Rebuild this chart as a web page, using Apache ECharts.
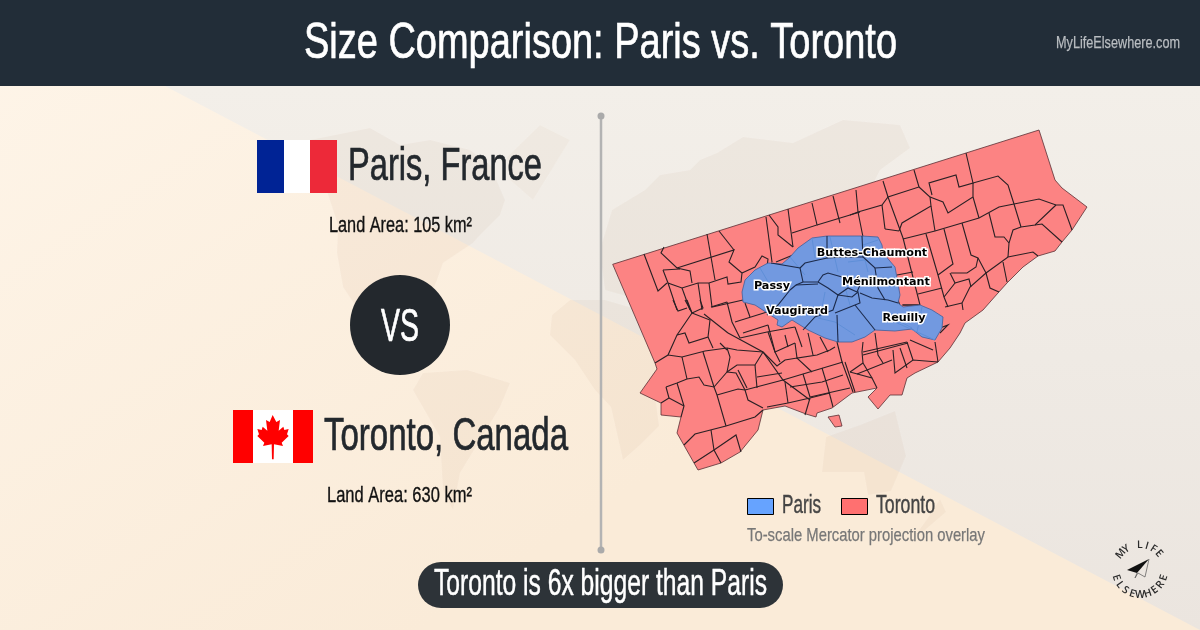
<!DOCTYPE html>
<html><head><meta charset="utf-8"><style>html,body{margin:0;padding:0;background:#fdf1e2}#c{width:1200px;height:630px}</style>
<script src="https://cdn.jsdelivr.net/npm/echarts@6/dist/echarts.min.js"></script></head>
<body><div id="c"></div><script>
const torontoOutline=[[612.7,264.3],[1039,130],[1055,180],[1062,188],[1087,207],[1072,230],[1062,242],[1055,251],[1038,256],[1023,267],[1007,283],[998,293],[983,310],[965,323],[960,333],[950,348],[938,362],[915,373],[907,378],[902,395],[890,395],[878,409],[868,397],[877,388],[852,393],[832,408],[817,413],[816,417],[806,414],[785,406],[763,410],[758,430],[740,452],[721,463],[698,470],[677,433],[681,417],[661,415],[661,403],[640,393],[657,369],[655,363]];
const torontoIsland=[[828,417],[839,415],[842,426],[835,427]];
const parisOutline=[[742,292],[745,280],[755,270],[768,263],[782,264],[790,257],[798,248],[812,238],[827,236],[862,236],[878,237],[882,245],[883,253],[895,267],[897,278],[900,295],[898,303],[903,307],[920,305],[932,310],[943,317],[942,328],[935,340],[922,337],[912,329],[895,331],[875,330],[865,337],[852,342],[838,342],[825,338],[808,330],[792,320],[782,327],[777,325],[778,320],[755,305],[743,302]];
const wardLinesNorth=[
[[644,254],[658,291],[667,283]],[[664,247],[661,253],[677,268],[690,271],[692,283]],
[[663,270],[668,283],[682,288],[698,283],[709,283],[727,277],[728,284],[741,282],[742,273],[729,262],[734,250],[677,268]],
[[663,270],[680,269]],[[707,234],[711,257],[715,280]],[[719,231],[734,250]],[[742,273],[755,267],[762,256],[768,259],[767,267]],
[[766,217],[772,262]],[[769,215],[778,227],[778,235],[793,247]],[[788,209],[793,247]],[[812,203],[817,225],[792,233]],[[817,225],[860,212]],[[833,196],[840,223]],[[776,262],[793,255],[807,245]],
[[668,283],[677,310]],[[682,288],[690,310]],[[698,283],[702,310]],[[709,283],[712,307],[743,300]],
[[856,190],[858,212],[863,237]],[[850,215],[858,212],[882,205],[888,197],[919,187],[914,170]],[[883,181],[888,197],[903,238]],[[882,205],[885,229]],[[885,229],[899,231]],[[899,231],[902,223],[931,206],[930,197],[919,187]],[[931,206],[935,231]],
[[930,197],[943,202],[948,213],[973,197],[973,183]],[[966,153],[973,183],[959,187],[956,175],[929,183],[932,195]],[[973,183],[998,176],[1008,185],[1014,204],[1021,227]],[[973,197],[979,218]],
[[903,239],[935,231],[979,218],[999,207],[1014,204],[1039,199],[1056,205],[1063,205],[1072,230]],[[1056,205],[1035,225],[1021,227],[1013,230],[1009,243],[1008,257]],[[1035,225],[1042,224],[1062,242]],[[989,213],[995,237],[1004,237],[1009,243]],
[[1038,256],[1033,252],[1008,257],[986,273],[970,287],[962,303],[963,310]],[[1003,262],[1007,282]],[[986,273],[990,288],[999,292]],[[926,234],[938,275],[944,297],[948,307]],[[944,229],[953,264],[938,275]],[[962,223],[971,255],[978,258],[986,273]],[[951,273],[967,273],[976,267],[978,258]],[[950,273],[955,283],[944,297]],[[955,283],[969,279],[971,287]],[[918,294],[942,288]],[[897,275],[913,272]],[[903,238],[920,305]],[[903,305],[920,305]],[[945,307],[962,303]],
[[902,305],[918,305],[917,311],[903,312]],[[898,300],[902,312]],[[940,333],[948,325],[940,328]]
];
const wardLinesWest=[
[[655,363],[668,355],[677,335],[692,313],[685,300]],[[677,335],[685,333],[689,343],[708,337],[710,320],[692,313]],[[704,314],[728,333]],[[668,355],[682,357],[705,351],[727,348]],[[682,357],[687,379]],[[703,352],[714,387]],[[708,337],[713,348]],[[687,379],[699,377],[704,385],[714,387],[727,372]],[[666,387],[677,383],[687,379]],[[666,387],[669,398],[661,403]],[[669,398],[684,406]],[[677,383],[684,406],[681,417]],[[714,387],[717,395],[726,426]],[[717,395],[738,389],[745,390]],[[684,445],[695,434],[726,426],[755,417],[763,410]],[[711,430],[714,450],[721,463]],[[694,463],[714,450],[736,435],[741,452]],[[673,300],[678,311],[687,308]],[[687,300],[692,313],[703,308],[700,300]],[[711,307],[727,302]]
];
const wardLinesSouth=[
[[728,333],[763,352],[783,380],[810,400]],[[745,390],[783,380],[803,374],[843,362]],[[735,322],[767,312]],[[740,338],[767,332],[795,327]],[[743,333],[768,325]],[[727,302],[732,322],[740,338]],[[745,303],[750,317]],
[[768,325],[775,352],[780,362]],[[763,352],[777,366],[785,360],[797,358],[812,372]],[[768,332],[775,352],[795,343]],[[785,335],[788,347]],[[795,343],[797,358],[817,355],[830,350],[835,347]],[[795,327],[802,347]],[[808,333],[813,355]],[[820,337],[828,352]],[[837,342],[842,362],[853,392]],[[845,362],[855,392]],
[[863,342],[862,352],[863,363]],[[863,352],[907,342]],[[863,355],[908,343]],[[875,333],[878,355],[883,363]],[[893,350],[895,373],[913,360],[938,362]],[[900,348],[907,368]],[[907,342],[913,360]],[[910,340],[933,350]],[[935,342],[938,362]],[[850,372],[863,363]],[[850,372],[872,378],[877,388]],[[863,363],[872,378]],[[857,374],[892,360]],
[[803,374],[810,397]],[[822,368],[828,388]],[[790,387],[822,382],[843,375]],[[810,397],[850,388]],[[828,388],[833,407]],[[757,377],[782,373]],[[755,365],[757,388]],[[763,352],[755,365],[737,365],[727,372]],[[745,390],[736,373],[727,372]],[[738,370],[747,388]],[[745,390],[748,400],[763,408]],[[785,382],[788,403]],[[767,407],[788,403],[810,398]],[[810,398],[805,415]],[[810,398],[830,393]],[[727,348],[730,357],[727,372]],[[727,348],[737,350],[763,352]],[[727,350],[720,343]]
];
const parisLines=[
[[771,263],[800,268],[803,282]],[[800,268],[805,263],[818,260],[827,258],[827,236]],[[827,258],[845,257],[863,257]],[[862,236],[863,257],[875,268],[892,267]],
[[803,282],[818,282],[823,275],[828,273],[842,277],[852,278]],[[818,282],[828,288],[838,295],[848,288],[857,292]],[[790,290],[778,305],[767,315]],[[790,290],[796,285],[803,282]],[[796,285],[818,284]],
[[838,295],[833,310],[815,317],[803,330]],[[838,295],[852,297],[858,292],[860,303],[855,305],[835,313]],[[860,293],[872,298],[888,300],[898,303]],[[875,268],[878,288],[885,300]],[[863,278],[857,292]],[[855,305],[875,330]],[[837,315],[838,342]]
];
const parisLightLines=[[[760,268],[770,285]],[[830,237],[838,272]],[[848,262],[865,260],[868,272]],[[878,240],[863,245]],[[818,318],[835,322],[855,335]],[[825,292],[820,318]],[[882,312],[912,328]],[[922,307],[917,332]],[[895,322],[935,340]],[[790,257],[805,275]],[[812,238],[815,258]],[[843,280],[850,305]],[[792,320],[808,305]]];
const parisLabelNames=['Buttes-Chaumont','Ménilmontant','Passy','Vaugirard','Reuilly'];
const parisLabelPoints=[[872,253],[886,282],[772,286],[797,311],[904,318]];
const worldShapes={
 northAmerica:[[335,135],[370,128],[400,145],[430,140],[470,150],[490,165],[505,200],[500,215],[480,235],[473,243],[443,263],[437,280],[433,290],[425,300],[420,345],[417,363],[393,343],[367,323],[343,287],[337,253],[338,225],[320,170],[310,140]],
 southAmerica:[[423,373],[467,370],[510,383],[500,407],[480,440],[460,473],[453,510],[443,490],[440,437],[413,390]],
 greenland:[[507,157],[540,125],[570,140],[533,200],[510,180]],
 asia:[[600,250],[612,210],[645,190],[660,175],[690,170],[700,160],[717,153],[743,137],[793,143],[843,120],[900,125],[910,148],[880,170],[870,190],[880,260],[890,340],[820,345],[760,340],[700,300],[640,300],[605,290]],
 africa:[[550,335],[552,315],[570,300],[605,300],[640,310],[665,345],[655,395],[659,426],[640,445],[623,460],[611,407],[595,390],[575,360]],
 australia:[[826,437],[860,425],[895,411],[906,456],[891,491],[868,495],[864,472],[822,472]],
 newZealand:[[940,499],[946,512],[925,530],[917,533],[930,515]]
};
const ink='#23282d';
function poly(name,ring){return {type:'Feature',properties:{name},geometry:{type:'Polygon',coordinates:[ring.concat([ring[0]])]}};}
const baseFeatures=Object.keys(worldShapes).map(k=>poly(k,worldShapes[k])).concat([poly('Toronto',torontoOutline),poly('Toronto Islands',torontoIsland)]);
const parisFeatures=[poly('Paris',parisOutline)];
echarts.registerMap('baseMap',{type:'FeatureCollection',features:baseFeatures});
echarts.registerMap('parisMap',{type:'FeatureCollection',features:parisFeatures});
function box(fs){let a=1e9,b=1e9,c=-1e9,d=-1e9;fs.forEach(f=>f.geometry.coordinates[0].forEach(p=>{a=Math.min(a,p[0]);c=Math.max(c,p[0]);b=Math.min(b,p[1]);d=Math.max(d,p[1]);}));return {left:a,top:b,width:c-a,height:d-b};}
const identity={project:p=>p,unproject:p=>p};
const measure=document.createElement('canvas').getContext('2d');
const FONT='"Liberation Sans Narrow","Liberation Sans",sans-serif';
function fit(text,left,right,mid,size,fill,weightLine){
 measure.font='normal '+size+'px '+FONT;
 const w=measure.measureText(text).width, sx=(right-left)/w;
 return {type:'text',x:left,y:mid+size*0.065,scaleX:sx,scaleY:1,z:20,silent:true,style:{text,fill,stroke:fill,lineWidth:weightLine==null?0.7:weightLine,fontSize:size,fontFamily:FONT,align:'left',verticalAlign:'middle'}};
}
function rect(x,y,w,h,fill,z){return {type:'rect',shape:{x,y,width:w,height:h},z,silent:true,style:{fill}};}
const leaf=[[158,45],[169,66],[180,60],[176,92],[190,80],[193,90],[206,87],[201,103],[206,108],[185,128],[189,138],[162,133],[161,178],[156,178],[155,133],[129,138],[133,128],[112,108],[117,103],[112,87],[125,90],[128,80],[142,92],[138,60],[149,66]].map(p=>[220+p[0]/3,400+p[1]/3]);
function arcText(str,cx,cy,r,startDeg,stepDeg,bottom){
 return str.split('').map((ch,i)=>{const a=(startDeg+i*stepDeg)*Math.PI/180;
  const x=cx+r*Math.sin(a), y=bottom? cy+r*Math.cos(a): cy-r*Math.cos(a);
  const rot=bottom? a : -a;
  return {type:'text',x,y,rotation:rot,z:20,silent:true,style:{text:ch,fill:'#2a2a2a',fontSize:10.5,fontWeight:600,fontFamily:'"Open Sans",sans-serif',align:'center',verticalAlign:'middle'}};});
}
const graphics=[
 {type:'rect',shape:{x:0,y:0,width:1200,height:630},z:0,silent:true,style:{fill:new echarts.graphic.LinearGradient(0,0,0.35,1,[{offset:0,color:'#fef5e9'},{offset:1,color:'#faebd8'}])}},
 {type:'polygon',shape:{points:[[165,86],[1200,86],[1200,630]]},z:0,silent:true,style:{fill:new echarts.graphic.LinearGradient(0,0,0,1,[{offset:0,color:'#f3efe9'},{offset:1,color:'#ebe5df'}])}},
 rect(0,0,1200,86,'#222d38',6),
 fit('Size Comparison: Paris vs. Toronto',304,897,41,50,'#ffffff'),
 fit('MyLifeElsewhere.com',1056,1180,42,17,'#b9bdc1',0.25),
 {type:'line',shape:{x1:601,y1:116,x2:601,y2:550},z:5,silent:true,style:{stroke:'#b3b3b3',lineWidth:2.5}},
 {type:'circle',shape:{cx:601,cy:116,r:3.5},z:5,silent:true,style:{fill:'#aaaaaa'}},
 {type:'circle',shape:{cx:601,cy:550,r:3.5},z:5,silent:true,style:{fill:'#aaaaaa'}},
 rect(257,140,27,53,'#002395',7),rect(284,140,27,53,'#ffffff',7),rect(310,140,27,53,'#ed2939',7),
 fit('Paris, France',348,542,164,46,ink),
 fit('Land Area: 105 km²',329,472,225,22,'#111111',0.35),
 {type:'circle',shape:{cx:400,cy:325,r:50},z:7,silent:true,style:{fill:ink}},
 fit('VS',381,419,325,46,'#ffffff'),
 rect(233,410,80,53,'#ffffff',7),rect(233,410,20,53,'#ff0000',7),rect(293,410,20,53,'#ff0000',7),
 {type:'polygon',shape:{points:leaf},z:8,silent:true,style:{fill:'#ff0000'}},
 fit('Toronto, Canada',324,568,434,46,ink),
 fit('Land Area: 630 km²',327,472,495,22,'#111111',0.35),
 {type:'rect',shape:{x:418,y:562,width:365,height:46,r:23},z:7,silent:true,style:{fill:'#2d3338'}},
 fit('Toronto is 6x bigger than Paris',434,767,583,36,'#ffffff',0.5),
 {type:'rect',shape:{x:747.5,y:498.5,width:26,height:16},z:7,silent:true,style:{fill:'#66a3ff',stroke:'#000',lineWidth:1}},
 fit('Paris',782,821,504,25,'#444444',0.4),
 {type:'rect',shape:{x:841.5,y:498.5,width:26,height:16},z:7,silent:true,style:{fill:'#ff7070',stroke:'#000',lineWidth:1}},
 fit('Toronto',876,935,504,25,'#444444',0.4),
 fit('To-scale Mercator projection overlay',747,985,535,19,'#777777',0.25),
 {type:'polygon',shape:{points:[[1127,570],[1149,559],[1137,573]]},z:20,silent:true,style:{fill:'#111'}},
 {type:'polyline',shape:{points:[[1149,559],[1145,577],[1138,573],[1135,578],[1137,573]]},z:20,silent:true,style:{stroke:'#555',lineWidth:.7,fill:'none'}}
].concat(arcText('MY LIFE',1140,570,25,-50,16.5,false),arcText('ELSEWHERE',1140,570,25,-72,18,true));
const baseRegions=Object.keys(worldShapes).map(name=>({name,itemStyle:{areaColor:name==='greenland'?'rgba(170,125,80,0.04)':'rgba(170,125,80,0.06)',borderColor:'rgba(255,255,255,0.1)',borderWidth:.5}})).concat(['Toronto','Toronto Islands'].map(name=>({name,itemStyle:{areaColor:'#fc8383',borderColor:'#5a3035',borderWidth:.8}})));
function lineSeries(name,geoIndex,polys,color,width,z){return {type:'lines',name,coordinateSystem:'geo',geoIndex,polyline:true,silent:true,z,data:polys.map(coords=>({coords})),lineStyle:{color,width,opacity:1,curveness:0}};}
const noState={emphasis:{disabled:true},select:{disabled:true},tooltip:{show:false}};
const chart=echarts.init(document.getElementById('c'),null,{renderer:'canvas'});
chart.setOption({animation:false,
 graphic:{elements:graphics},
 geo:[
  Object.assign({map:'baseMap',projection:identity,roam:false,silent:true,z:1,regions:baseRegions,itemStyle:{areaColor:'transparent',borderWidth:0}},box(baseFeatures),noState),
  Object.assign({map:'parisMap',projection:identity,roam:false,silent:true,z:3,regions:[{name:'Paris',itemStyle:{areaColor:'#7299e0',borderColor:'#3f5f9c',borderWidth:.8}}],itemStyle:{areaColor:'#7299e0'}},box(parisFeatures),noState)
 ],
 series:[
  lineSeries('Toronto wards',0,wardLinesNorth.concat(wardLinesWest,wardLinesSouth),'#2a2024',1.1,2),
  lineSeries('Paris light',1,parisLightLines,'#5f8fd8',1,4),
  lineSeries('Paris quartiers',1,parisLines,'#1c2a4a',1.1,5),
  {type:'scatter',coordinateSystem:'geo',geoIndex:1,z:6,silent:true,symbolSize:1,itemStyle:{color:'transparent'},
   data:parisLabelNames.map((name,i)=>({name,value:parisLabelPoints[i]})),
   label:{show:true,position:'inside',opacity:1,formatter:'{b}',fontFamily:'"DejaVu Sans"',fontWeight:'bold',fontSize:11.2,color:'#000',textBorderColor:'#fff',textBorderWidth:2.8}}
 ]});
</script></body></html>
